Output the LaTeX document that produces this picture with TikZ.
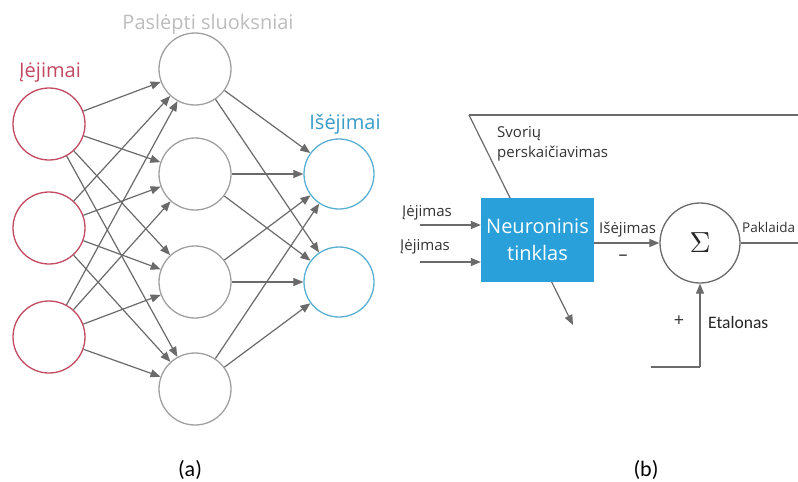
\documentclass[tikz,border=0pt]{standalone}
\usepackage{fontspec}
\setmainfont{Open Sans}
\newfontfamily\calib{Carlito}
\usetikzlibrary{arrows.meta}
\definecolor{inred}{HTML}{C24A62}
\definecolor{outblue}{HTML}{5AB0D2}
\definecolor{lblblue}{HTML}{3A9CC8}
\definecolor{hidgray}{HTML}{A0A0A0}
\definecolor{arrgray}{HTML}{6A6A6A}
\definecolor{lightlbl}{HTML}{BDBDBD}
\definecolor{boxblue}{HTML}{2AA0DA}
\begin{document}
\begin{tikzpicture}[x=1pt,y=-1pt,
  neur/.style={circle, draw, line width=1.3pt, minimum size=72pt, inner sep=0pt},
  conn/.style={draw=arrgray, line width=1.2pt, -{Triangle[length=10pt,width=8pt]}},
  plain/.style={draw=arrgray, line width=1.3pt},
  smalllbl/.style={font=\fontsize{15}{17}\selectfont, text=black!80, inner sep=0pt},
  biglbl/.style={font=\fontsize{20}{23}\selectfont, inner sep=0pt}]
\fill[white] (0,0) rectangle (798,482);
\useasboundingbox (0,0) rectangle (798,482);

% ---------- (a) ----------
\node[neur, draw=inred] (i1) at (49,124) {};
\node[neur, draw=inred] (i2) at (49,228) {};
\node[neur, draw=inred] (i3) at (49,337) {};
\node[neur, draw=hidgray] (h1) at (195,69) {};
\node[neur, draw=hidgray] (h2) at (195,174) {};
\node[neur, draw=hidgray] (h3) at (195,282) {};
\node[neur, draw=hidgray] (h4) at (195,389) {};
\node[neur, draw=outblue, minimum size=70pt] (o1) at (339,174) {};
\node[neur, draw=outblue, minimum size=70pt] (o2) at (339,282) {};

\foreach \i in {i1,i2,i3}{
  \foreach \h in {h1,h2,h3,h4}{
    \draw[conn] (\i) -- (\h);
  }
}
\foreach \h in {h1,h2,h3,h4}{
  \foreach \o in {o1,o2}{
    \draw[conn] (\h) -- (\o);
  }
}

\node[biglbl, text=lightlbl, anchor=base] (lh) at (208,29) {Paslėpti sluoksniai};
\node[biglbl, text=inred, anchor=base] (li) at (50,77) {Įėjimai};
\node[biglbl, text=lblblue, anchor=base] (lo) at (345,129) {Išėjimai};
\node[font=\calib\fontsize{22}{24}\selectfont, anchor=base, inner sep=0pt] (la) at (190,476) {(a)};

% ---------- (b) ----------
\coordinate (tr) at (798,115);
\coordinate (tl) at (469,115);
\coordinate (fb) at (573,325);
\draw[plain] (tr) -- (tl);
\draw[conn] (tl) -- (fb);

\node[fill=boxblue, minimum width=113pt, minimum height=84pt, inner sep=0pt,
      text=white, align=center, font=\fontsize{20}{27}\selectfont] (nn) at (537.5,240) {Neuroninis\\tinklas};

\node[circle, draw=arrgray, line width=1.3pt, minimum size=80pt, inner sep=0pt] (sum) at (700,243) {};
\node[scale=2.9, text=black!85] (sig) at (700,243) {$\Sigma$};

\coordinate (in1) at (420,225);
\coordinate (in2) at (420,262);
\draw[conn] (in1) -- (nn.west |- in1);
\draw[conn] (in2) -- (nn.west |- in2);
\draw[conn] (nn.east |- sum) -- (sum.west);
\coordinate (pr) at (798,243);
\draw[plain] (sum.east) -- (pr);
\coordinate (et0) at (651,367);
\draw[plain] (et0) -- (sum.south |- et0);
\draw[conn] (sum.south |- et0) -- (sum.south);

\node[smalllbl, anchor=base west] (sv1) at (497,137) {Svorių};
\node[smalllbl, anchor=base west] (sv2) at (497,157) {perskaičiavimas};
\node[smalllbl, anchor=base west] (ie1) at (402,216) {Įėjimas};
\node[smalllbl, anchor=base west] (ie2) at (400,250) {Įėjimas};
\node[smalllbl, anchor=base west] (ise) at (599,233) {Išėjimas};
\node[smalllbl, font=\fontsize{18}{20}\selectfont] (minus) at (623,258) {–};
\node[smalllbl, font=\fontsize{13.5}{16}\selectfont, anchor=base west] (pak) at (742,232) {Paklaida};
\node[smalllbl, font=\fontsize{18}{20}\selectfont] (plus) at (679,321) {+};
\node[font=\calib\fontsize{17.5}{20}\selectfont, anchor=base west, inner sep=0pt, text=black!85] (etl) at (708,328) {Etalonas};
\node[font=\calib\fontsize{22}{24}\selectfont, anchor=base, inner sep=0pt] (lb) at (646,476) {(b)};
\end{tikzpicture}
\end{document}
